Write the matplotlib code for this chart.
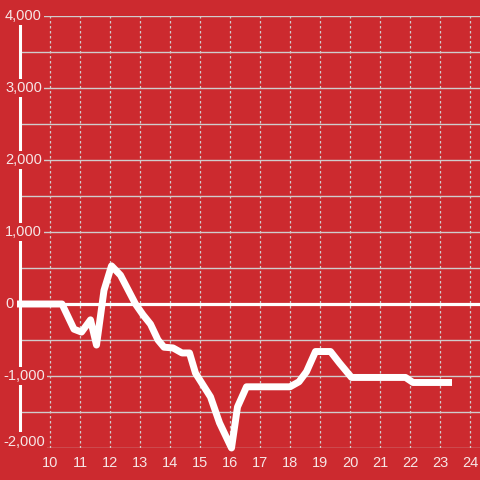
import matplotlib
matplotlib.use("Agg")
import matplotlib.pyplot as plt

hours = [8.9, 10.4, 10.8, 11.05, 11.35, 11.55, 11.8, 12.05, 12.35, 12.85, 13.1, 13.35, 13.6, 13.8,
         14.1, 14.4, 14.65, 14.85, 15.35, 15.65, 16.05, 16.25, 16.55, 18.0, 18.3, 18.55, 18.85,
         19.35, 19.65, 20.05, 21.85, 22.1, 23.4]
values = [0, 0, -350, -390, -220, -570, 190, 530, 400, 0, -150, -280, -500, -600,
          -610, -680, -680, -960, -1290, -1650, -2000, -1430, -1150, -1150, -1080, -940, -660,
          -660, -820, -1020, -1020, -1090, -1090]
x_ticks = list(range(10, 25))
y_major = [-2000, -1000, 0, 1000, 2000, 3000, 4000]
y_minor = [-1500, -500, 500, 1500, 2500, 3500]

BG = "#cc2a2f"
TXT = "#f6e6e6"
GRID = "#d0cccc"
W, H = 480, 480
AX_L, AX_W = 20, 460

fig = plt.figure(figsize=(4.8, 4.8), dpi=100, facecolor=BG)
ax = fig.add_axes([AX_L / W, (H - 448) / H, AX_W / W, 432 / H])
ax.set_facecolor(BG)
ax.set_xlim(9.0, 9.0 + AX_W / 30)
ax.set_ylim(-2000, 4000)

for s in ["top", "right", "bottom"]:
    ax.spines[s].set_visible(False)
ax.spines["left"].set_color("white")
ax.spines["left"].set_linewidth(2.2)
ax.spines["left"].set_zorder(2)

ax.set_xticks([])
ax.set_yticks([])

for yv in y_major + y_minor:
    ax.axhline(yv, color=GRID, lw=1.0, zorder=1)
for xv in x_ticks:
    ax.axvline(xv, color=GRID, lw=0.9, ls=(0, (2, 2)), zorder=1)

for yv in y_major:
    lbl = f"{yv:,}"
    x0 = 3 if yv < 0 else 5
    ypos = yv + 90 if yv == y_major[0] else yv
    ax.text((x0 - AX_L) / AX_W, ypos, lbl, transform=ax.get_yaxis_transform(),
            ha="left", va="center", color=TXT, fontsize=10.5, family="Liberation Sans",
            zorder=3, bbox=dict(facecolor=BG, edgecolor="none", pad=1.5), clip_on=False)

ax.axhline(0, color="white", lw=2.3, zorder=4)
ax.plot(hours, values, color="white", lw=5.0, zorder=5, solid_capstyle="butt", clip_on=False)

for xv in x_ticks:
    ax.text(xv, -0.035, str(xv), transform=ax.get_xaxis_transform(), ha="center", va="center",
            color=TXT, fontsize=10.5, family="Liberation Sans", clip_on=False)

fig.savefig("out.png", dpi=100, facecolor=BG)
